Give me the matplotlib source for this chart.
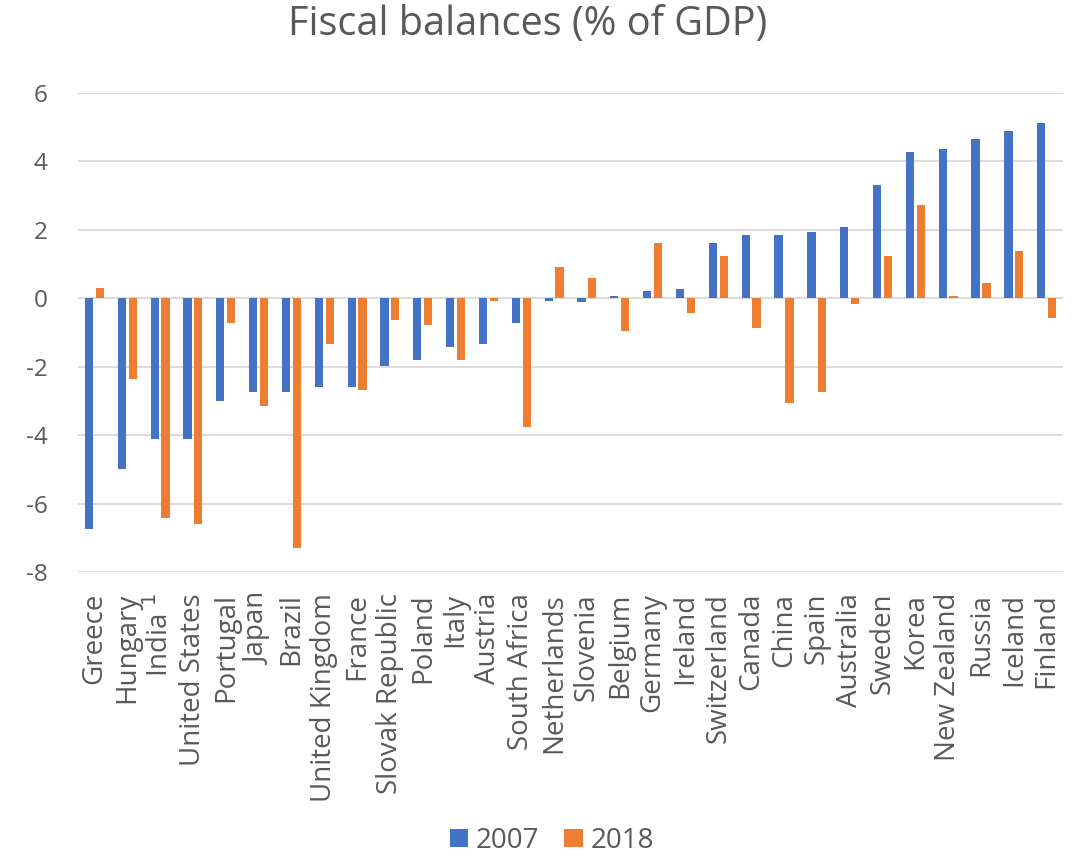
import numpy as np
import matplotlib
matplotlib.use("Agg")
import matplotlib.pyplot as plt

plt.rcParams['font.family'] = ['Open Sans', 'DejaVu Sans']
plt.rcParams['axes.unicode_minus'] = False

paises = ["Greece", "Hungary", "India $^1$", "United States", "Portugal", "Japan", "Brazil",
          "United Kingdom", "France", "Slovak Republic", "Poland", "Italy", "Austria",
          "South Africa", "Netherlands", "Slovenia", "Belgium", "Germany", "Ireland",
          "Switzerland", "Canada", "China", "Spain", "Australia", "Sweden", "Korea",
          "New Zealand", "Russia", "Iceland", "Finland"]

valores_2007 = [-6.74, -5.0, -4.1, -4.1, -3.0, -2.75, -2.75, -2.6, -2.6, -1.97, -1.8, -1.42,
                -1.34, -0.71, -0.09, -0.1, 0.05, 0.21, 0.28, 1.62, 1.85, 1.85, 1.92, 2.09,
                3.32, 4.27, 4.35, 4.66, 4.88, 5.13]

valores_2018 = [0.29, -2.36, -6.43, -6.6, -0.71, -3.14, -7.29, -1.34, -2.67, -0.64, -0.79, -1.81,
                -0.09, -3.77, 0.91, 0.6, -0.97, 1.62, -0.42, 1.22, -0.88, -3.06, -2.75, -0.18,
                1.22, 2.71, 0.05, 0.45, 1.38, -0.57]

azul = "#4472C4"
naranja = "#ED7D31"
gris_texto = "#595959"

fig = plt.figure(figsize=(10.76, 8.59), dpi=100)
ax = fig.add_axes([0.0725, 0.334, 0.9155, 0.558])

x = np.arange(len(paises))
ancho = 0.25
ax.bar(x - 0.165, valores_2007, ancho, color=azul, label="2007", zorder=3)
ax.bar(x + 0.165, valores_2018, ancho, color=naranja, label="2018", zorder=3)

ax.set_xlim(-0.5, len(paises) - 0.5)
ax.set_ylim(-8, 6)
ax.set_yticks(range(-8, 7, 2))
ax.yaxis.grid(True, color="#D9D9D9", linewidth=1.3, zorder=0)
ax.set_axisbelow(True)

ax.set_xticks(x)
ax.set_xticklabels(paises, rotation=90, fontsize=20, color=gris_texto)
ax.tick_params(axis="y", labelsize=17.5, labelcolor=gris_texto, length=0, pad=22)
ax.tick_params(axis="x", length=0, pad=15)

for lado in ["top", "right", "left", "bottom"]:
    ax.spines[lado].set_visible(False)

# titulo colocado por su linea base
fig.text(0.49, 1 - 35 / 859, "Fiscal balances (% of GDP)", fontsize=28.5, color=gris_texto,
         ha="center", va="baseline")

fig.legend(loc="lower center", bbox_to_anchor=(0.513, -0.024), ncol=2, frameon=False,
           fontsize=20, labelcolor=gris_texto, handlelength=0.65, handleheight=0.65,
           columnspacing=0.9, handletextpad=0.3)

fig.savefig("out.png", dpi=100)
